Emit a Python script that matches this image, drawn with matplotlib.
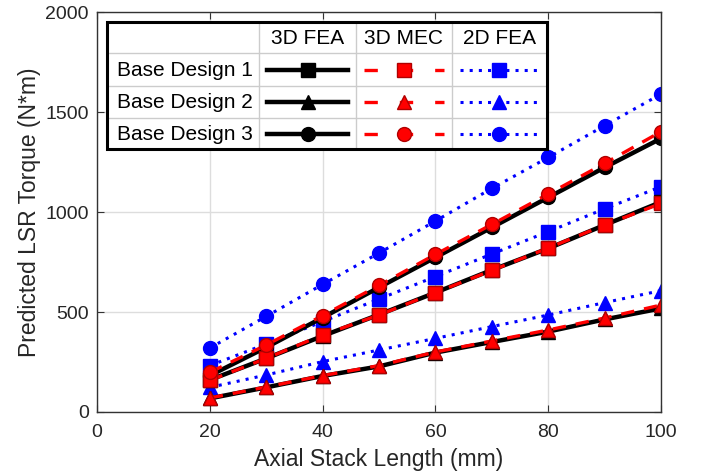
import matplotlib.pyplot as plt
from matplotlib.lines import Line2D

plt.rcParams['font.family'] = ['Liberation Sans', 'DejaVu Sans']

length = [20, 30, 40, 50, 60, 70, 80, 90, 100]

# Base Design 1 (squares)
fea3d_1 = [160, 268, 380, 487, 597, 710, 818, 935, 1050]
mec3d_1 = [158, 268, 385, 485, 597, 708, 820, 935, 1043]
fea2d_1 = [232, 340, 452, 565, 677, 790, 902, 1016, 1127]

# Base Design 2 (triangles)
fea3d_2 = [68, 123, 180, 228, 297, 350, 402, 463, 518]
mec3d_2 = [70, 125, 182, 232, 300, 355, 410, 470, 535]
fea2d_2 = [123, 185, 252, 310, 368, 427, 485, 547, 607]

# Base Design 3 (circles)
fea3d_3 = [182, 323, 472, 623, 773, 923, 1073, 1223, 1368]
mec3d_3 = [198, 335, 482, 633, 788, 938, 1090, 1243, 1402]
fea2d_3 = [320, 478, 638, 795, 955, 1118, 1273, 1432, 1590]

row_labels = ['Base Design 1', 'Base Design 2', 'Base Design 3']
col_labels = ['3D FEA', '3D MEC', '2D FEA']
markers = ['s', '^', 'o']

styles = {
    '3D FEA': dict(color='black', linestyle='-', linewidth=3.2, markersize=10),
    '3D MEC': dict(color='#ff0000', linestyle=(0, (4, 3)), linewidth=2.4, markersize=10),
    '2D FEA': dict(color='#0000ff', linestyle=(0, (1, 2)), linewidth=2.2, markersize=10),
}

data = {
    '3D FEA': [fea3d_1, fea3d_2, fea3d_3],
    '3D MEC': [mec3d_1, mec3d_2, mec3d_3],
    '2D FEA': [fea2d_1, fea2d_2, fea2d_3],
}

fig = plt.figure(figsize=(7.1, 4.71), dpi=100)
ax = fig.add_axes([0.1366, 0.1253, 0.7944, 0.849])

for col in ['2D FEA', '3D FEA', '3D MEC']:
    for i, vals in enumerate(data[col]):
        st = styles[col]
        ec = st['color'] if col != '3D MEC' else '#b00000'
        ax.plot(length, vals, marker=markers[i], markeredgecolor=ec,
                markerfacecolor=st['color'], **st)

ax.set_xlim(0, 100)
ax.set_ylim(0, 2000)
ax.set_xticks([0, 20, 40, 60, 80, 100])
ax.set_yticks([0, 500, 1000, 1500, 2000])
ax.grid(True, color='#dddddd', linewidth=1)
ax.set_axisbelow(True)
ax.tick_params(direction='in', top=True, right=True, labelsize=14, length=5,
               colors='#333333', labelcolor='#262626')
ax.tick_params(axis='y', pad=6)
ax.tick_params(axis='x', pad=9)
for sp in ax.spines.values():
    sp.set_color('#333333')
    sp.set_linewidth(1)
ax.set_xlabel('Axial Stack Length (mm)', fontsize=16.5, color='#262626', labelpad=5)
ax.set_ylabel('Predicted LSR Torque (N*m)', fontsize=16.5, color='#262626', labelpad=3)


# table-style legend, drawn in pixel coords converted to figure fractions
W, H = 710, 471


def fx(px):
    return px / W


def fy(py):
    return (H - py) / H


xs = [107, 259, 356, 452, 547]
ys = [22, 53, 86, 118, 149]

fig.patches.append(plt.Rectangle((fx(xs[0]), fy(ys[-1])), fx(xs[-1]) - fx(xs[0]),
                                 fy(ys[0]) - fy(ys[-1]), transform=fig.transFigure,
                                 facecolor='white', edgecolor='none', zorder=5))
for x in xs[1:-1]:
    fig.add_artist(Line2D([fx(x), fx(x)], [fy(ys[0]), fy(ys[-1])], color='#cccccc',
                          linewidth=1, transform=fig.transFigure, zorder=6))
for y in ys[1:-1]:
    fig.add_artist(Line2D([fx(xs[0]), fx(xs[-1])], [fy(y), fy(y)], color='#cccccc',
                          linewidth=1, transform=fig.transFigure, zorder=6))
fig.add_artist(plt.Rectangle((fx(xs[0]), fy(ys[-1])), fx(xs[-1]) - fx(xs[0]),
                             fy(ys[0]) - fy(ys[-1]), transform=fig.transFigure,
                             facecolor='none', edgecolor='black', linewidth=2.2, zorder=8))

for j, c in enumerate(col_labels):
    fig.text(fx((xs[j + 1] + xs[j + 2]) / 2), fy((ys[0] + ys[1]) / 2 + 1), c,
             ha='center', va='center', fontsize=15, zorder=9)
for i, r in enumerate(row_labels):
    yc = (ys[i + 1] + ys[i + 2]) / 2
    fig.text(fx(xs[1] - 6), fy(yc + 1), r, ha='right', va='center', fontsize=15, zorder=9)
    for j, c in enumerate(col_labels):
        st = styles[c]
        x0, x1 = xs[j + 1] + 8, xs[j + 2] - 8
        ec = st['color'] if c != '3D MEC' else '#b00000'
        if c == '3D MEC':
            ls = (0, (4, 6.6))
        else:
            ls = st['linestyle']
        fig.add_artist(Line2D([fx(x0), fx(x1)], [fy(yc), fy(yc)], color=st['color'],
                              linestyle=ls, linewidth=st['linewidth'],
                              transform=fig.transFigure, zorder=9))
        fig.add_artist(Line2D([fx((x0 + x1) / 2)], [fy(yc)], marker=markers[i],
                              markersize=10, markerfacecolor=st['color'],
                              markeredgecolor=ec, linestyle='none',
                              transform=fig.transFigure, zorder=10))

fig.savefig('out.png', dpi=100)
